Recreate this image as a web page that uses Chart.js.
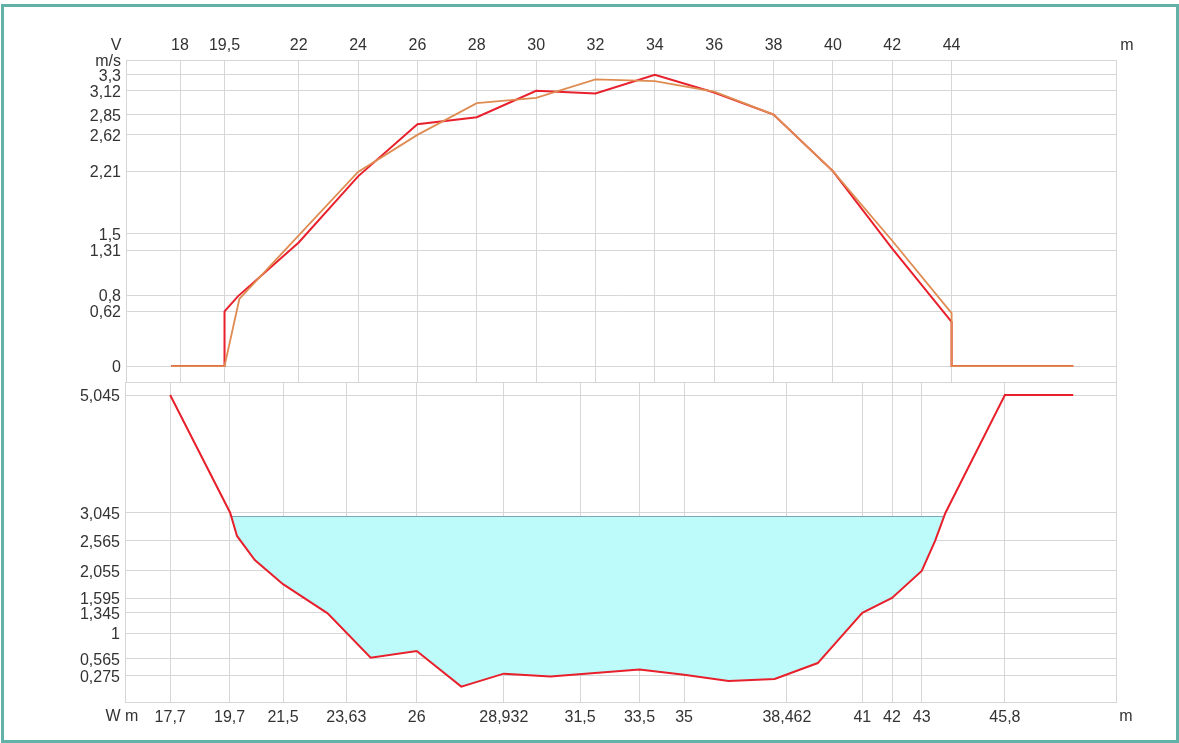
<!DOCTYPE html>
<html>
<head>
<meta charset="utf-8">
<script src="https://cdn.jsdelivr.net/npm/chart.js@4/dist/chart.umd.min.js"></script>
<style>
  body { margin: 0; background: #fff; }
  #wrap { position: relative; width: 1179px; height: 743px; overflow: hidden; background: #fff; }
  #frame { position: absolute; left: 1px; top: 4px; width: 1172px; height: 733px; border: 3px solid #62b2a8; }
  canvas { position: absolute; left: 0; }
  .lbl { position: absolute; font: 16px "Liberation Sans", Arial, sans-serif; color: #333; transform: translate(-50%, -50%); line-height: 1; white-space: nowrap; }
</style>
</head>
<body>
<div id="wrap">
  <div id="frame"></div>
  <canvas id="velChart" width="1179" height="382" style="top:0"></canvas>
  <canvas id="bedChart" width="1179" height="361" style="top:382px"></canvas>
  <div class="lbl" style="left:116px;top:45px">V</div>
  <div class="lbl" style="left:1127px;top:45px">m</div>
  <div class="lbl" style="left:122px;top:716px">W m</div>
  <div class="lbl" style="left:1126px;top:716px">m</div>
</div>
<script>
// shared x range (metres)
const xMin = 16.18;
const xMax = 49.54;

// velocity panel
const topXTicks = [18, 19.5, 22, 24, 26, 28, 30, 32, 34, 36, 38, 40, 42, 44];
const topYTicks = [0, 0.62, 0.8, 1.31, 1.5, 2.21, 2.62, 2.85, 3.12, 3.3];
const velMin = -0.181;
const velMax = 3.469;

const redX = [17.7, 19.5, 19.5, 19.95, 22, 24, 26, 28, 30, 32, 34, 36, 38, 40, 42, 44, 44, 48.1];
const redV = [0, 0, 0.62, 0.79, 1.4, 2.15, 2.74, 2.82, 3.12, 3.09, 3.3, 3.1, 2.85, 2.21, 1.33, 0.5, 0, 0];
const orangeX = [17.7, 19.5, 20, 22, 24, 26, 28, 30, 32, 34, 36, 38, 40, 42, 44, 44, 48.1];
const orangeV = [0, 0, 0.76, 1.48, 2.2, 2.62, 2.98, 3.04, 3.25, 3.23, 3.11, 2.85, 2.21, 1.42, 0.6, 0, 0];

// cross-section panel
const botXTicks = [17.7, 19.7, 21.5, 23.63, 26, 28.932, 31.5, 33.5, 35, 38.462, 41, 42, 43, 45.8];
const botYTicks = [0.275, 0.565, 1, 1.345, 1.595, 2.055, 2.565, 3.045, 5.045];
const bedMin = -0.172;
const bedMax = 5.266;

const bedX = [17.7, 19.72, 19.95, 20.55, 21.5, 23.0, 24.45, 26, 27.5, 28.932, 30.5, 33.5, 35, 36.5, 38.05, 39.5, 41, 42, 43, 43.45, 43.8, 45.8, 48.1];
const bedY = [5.045, 3.045, 2.65, 2.24, 1.83, 1.335, 0.58, 0.695, 0.09, 0.31, 0.26, 0.38, 0.29, 0.185, 0.22, 0.49, 1.345, 1.595, 2.055, 2.565, 3.045, 5.045, 5.045];
const waterLevel = 2.98;
const waterEdges = [19.77, 43.75];

const gridColor = '#d6d6d6';
const fontSpec = { family: '"Liberation Sans", Arial, sans-serif', size: 16 };
const textColor = '#333';

function fmt(v) {
    return String(+v.toFixed(3)).replace('.', ',');
}

function pts(xs, ys) {
    return xs.map((x, i) => ({ x: x, y: ys[i] }));
}

// bed points below the water surface, closed by the two shore points
const waterPts = [{ x: waterEdges[0], y: waterLevel }]
    .concat(pts(bedX, bedY).filter(p => p.y < waterLevel && p.x > waterEdges[0] && p.x < waterEdges[1]))
    .concat([{ x: waterEdges[1], y: waterLevel }]);

function noPad(s) {
    s.paddingTop = 0; s.paddingBottom = 0; s.paddingLeft = 0; s.paddingRight = 0;
}

function xScale(position, ticks, height, pad) {
    return {
        type: 'linear',
        position: position,
        min: xMin,
        max: xMax,
        afterBuildTicks: s => { s.ticks = ticks.concat([xMax]).map(v => ({ value: v })); },
        afterFit: s => { s.height = height; noPad(s); },
        ticks: {
            autoSkip: false, maxRotation: 0, minRotation: 0, padding: pad,
            color: textColor, font: fontSpec,
            callback: v => (v === xMax ? '' : fmt(v))
        },
        grid: { color: gridColor, drawTicks: false },
        border: { color: gridColor }
    };
}

function yScale(min, max, ticks, topLabel, width) {
    return {
        type: 'linear',
        min: min,
        max: max,
        afterBuildTicks: s => { s.ticks = [min].concat(ticks, [max]).map(v => ({ value: v })); },
        afterFit: s => { s.width = width; noPad(s); },
        ticks: {
            autoSkip: false, padding: 5, labelOffset: 1.5, color: textColor, font: fontSpec,
            callback: v => (v === max ? topLabel : (v === min ? '' : fmt(v)))
        },
        grid: { color: gridColor, drawTicks: false },
        border: { color: gridColor }
    };
}

const common = {
    responsive: false,
    animation: false,
    devicePixelRatio: 1,
    layout: { padding: { left: 0, right: 63, top: 0, bottom: 0 } },
    plugins: { legend: { display: false }, tooltip: { enabled: false } },
    elements: { point: { radius: 0 }, line: { tension: 0 } }
};

new Chart(document.getElementById('velChart'), {
    type: 'line',
    data: {
        datasets: [
            { data: pts(orangeX, orangeV), borderColor: '#df8c52', borderWidth: 1.8, fill: false },
            { data: pts(redX, redV), borderColor: '#e8202c', borderWidth: 2, fill: false }
        ]
    },
    options: Object.assign({}, common, {
        scales: {
            x: xScale('top', topXTicks, 60, 5),
            y: yScale(velMin, velMax, topYTicks, 'm/s', 126)
        }
    })
});

new Chart(document.getElementById('bedChart'), {
    type: 'line',
    data: {
        datasets: [
            { data: pts(bedX, bedY), borderColor: '#e8202c', borderWidth: 2, fill: false, order: 0 },
            { data: [{ x: waterEdges[0], y: waterLevel }, { x: waterEdges[1], y: waterLevel }],
              borderColor: '#7ea6b6', borderWidth: 1, fill: false, order: 1 },
            { data: waterPts, borderWidth: 0, borderColor: 'rgba(0,0,0,0)',
              backgroundColor: '#bdfbfb', fill: { value: waterLevel }, order: 2 }
        ]
    },
    options: Object.assign({}, common, {
        scales: {
            x: xScale('bottom', botXTicks, 41, 6),
            y: yScale(bedMin, bedMax, botYTicks, '', 125)
        }
    })
});
</script>
</body>
</html>
